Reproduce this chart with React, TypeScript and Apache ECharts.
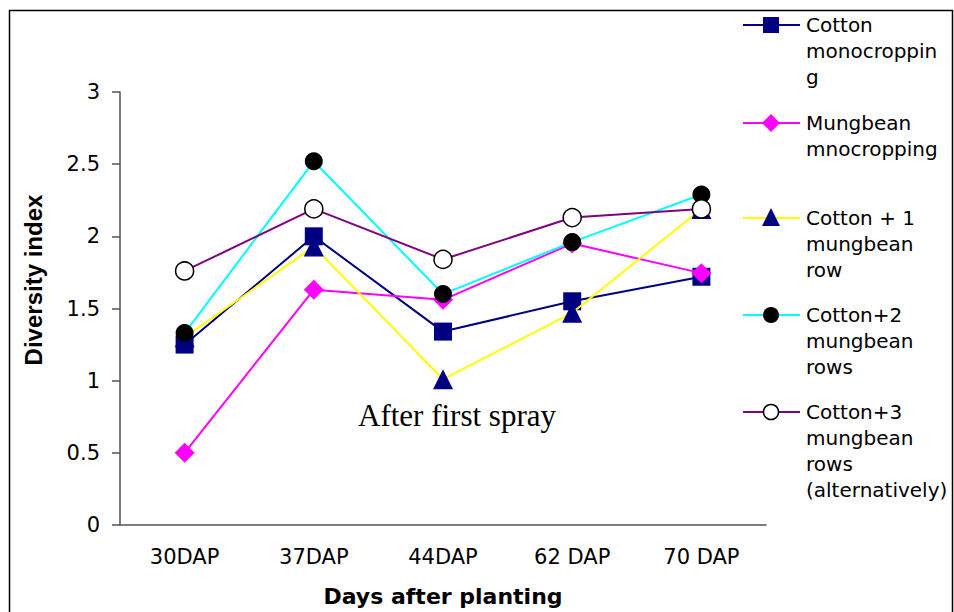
import React, { useEffect, useRef } from "react";
import * as echarts from "echarts";

const categories = ["30DAP", "37DAP", "44DAP", "62 DAP", "70 DAP"];
const seriesNames = [
  "Cotton\nmonocroppin\ng",
  "Mungbean\nmnocropping",
  "Cotton + 1\nmungbean\nrow",
  "Cotton+2\nmungbean\nrows",
  "Cotton+3\nmungbean\nrows\n(alternatively)",
];
const cottonMono = [1.25, 2.0, 1.34, 1.55, 1.72];
const mungbeanMono = [0.5, 1.63, 1.56, 1.95, 1.745];
const cottonPlus1 = [1.3, 1.93, 1.01, 1.47, 2.19];
const cottonPlus2 = [1.33, 2.52, 1.6, 1.96, 2.29];
const cottonPlus3 = [1.76, 2.19, 1.84, 2.13, 2.19];
const yTicks = [0, 0.5, 1, 1.5, 2, 2.5, 3];

const lineColors = ["#000080", "#FF00FF", "#FFFF00", "#00FFFF", "#800080"];
const markerFill = ["#000080", "#FF00FF", "#000080", "#000000", "#FFFFFF"];
const markerStroke = ["#000080", "#FF00FF", "#000080", "#000000", "#000000"];
const symbols = ["rect", "diamond", "triangle", "circle", "circle"];
const symbolSizes = [18, 20, 20, 18, 18];
const allData = [cottonMono, mungbeanMono, cottonPlus1, cottonPlus2, cottonPlus3];

const legendY = [25, 123, 218, 315, 412];

function legendMarker(i: number, cx: number, cy: number): any {
  const style = { fill: markerFill[i], stroke: markerStroke[i], lineWidth: i === 4 ? 1.5 : 0 };
  if (symbols[i] === "rect") {
    return { type: "rect", shape: { x: cx - 8, y: cy - 8, width: 16, height: 16 }, style };
  }
  if (symbols[i] === "diamond") {
    return { type: "polygon", shape: { points: [[cx, cy - 9], [cx + 9, cy], [cx, cy + 9], [cx - 9, cy]] }, style };
  }
  if (symbols[i] === "triangle") {
    return { type: "polygon", shape: { points: [[cx, cy - 10], [cx + 9, cy + 8], [cx - 9, cy + 8]] }, style };
  }
  return { type: "circle", shape: { cx, cy, r: i === 4 ? 7.5 : 8 }, style };
}

export default function App() {
  const ref = useRef<HTMLDivElement>(null);
  useEffect(() => {
    if (!ref.current) return;
    const chart = echarts.init(ref.current, undefined, { renderer: "svg" });
    const legendGraphics: any[] = [];
    seriesNames.forEach((name, i) => {
      const y = legendY[i];
      legendGraphics.push({
        type: "line",
        shape: { x1: 743, y1: y, x2: 800, y2: y },
        style: { stroke: lineColors[i], lineWidth: 2 },
      });
      legendGraphics.push(legendMarker(i, 771, y));
      legendGraphics.push({
        type: "text",
        x: 806,
        y: y - 13,
        style: {
          text: name,
          font: "20px 'DejaVu Sans', sans-serif",
          fill: "#000",
          lineHeight: 26,
          verticalAlign: "top",
          align: "left",
        },
      });
    });

    chart.setOption({
      animation: false,
      backgroundColor: "#fff",
      grid: { left: 120, width: 646, top: 92, height: 433 },
      xAxis: {
        type: "category",
        data: categories,
        boundaryGap: true,
        name: "Days after planting",
        nameLocation: "middle",
        nameGap: 60,
        nameTextStyle: { fontFamily: "DejaVu Sans", fontWeight: "bold", fontSize: 22, color: "#000" },
        axisLine: { lineStyle: { color: "#555", width: 1.5 } },
        axisTick: { length: 6, lineStyle: { color: "#555", width: 1.5 }, alignWithLabel: false },
        axisLabel: { fontFamily: "DejaVu Sans", fontSize: 21, color: "#000", margin: 21 },
        splitLine: { show: false },
      },
      yAxis: {
        type: "value",
        min: 0,
        max: 3,
        interval: 0.5,
        axisLine: { show: true, lineStyle: { color: "#555", width: 1.5 } },
        axisTick: { show: true, length: 8, lineStyle: { color: "#555", width: 1.5 } },
        axisLabel: {
          fontFamily: "DejaVu Sans",
          fontSize: 21,
          color: "#000",
          margin: 20,
          formatter: (v: number) => (yTicks.includes(v) ? String(v) : ""),
        },
        splitLine: { show: false },
      },
      series: allData.map((d, i) => ({
        name: seriesNames[i],
        type: "line",
        data: d,
        symbol: symbols[i],
        symbolSize: symbolSizes[i],
        showSymbol: true,
        lineStyle: { color: lineColors[i], width: 2 },
        itemStyle: {
          color: markerFill[i],
          borderColor: markerStroke[i],
          borderWidth: i === 4 ? 1.5 : 0,
        },
        emphasis: { disabled: true },
        z: 2 + i,
      })),
      graphic: [
        {
          type: "rect",
          shape: { x: 9.5, y: 10.5, width: 943, height: 700 },
          style: { fill: "none", stroke: "#000", lineWidth: 1.5 },
          silent: true,
          z: 0,
        },
        {
          type: "text",
          x: 33,
          y: 280,
          rotation: Math.PI / 2,
          style: {
            text: "Diversity index",
            font: "bold 24px 'Liberation Sans', Arial, sans-serif",
            fill: "#000",
            align: "center",
            verticalAlign: "middle",
          },
        },
        {
          type: "text",
          x: 457,
          y: 415,
          style: {
            text: "After first spray",
            font: "31px 'Liberation Serif', 'Times New Roman', serif",
            fill: "#000",
            align: "center",
            verticalAlign: "middle",
          },
        },
        ...legendGraphics,
      ],
    });
    return () => chart.dispose();
  }, []);
  return <div ref={ref} style={{ width: 954, height: 612, position: "absolute", left: 0, top: 0 }} />;
}
